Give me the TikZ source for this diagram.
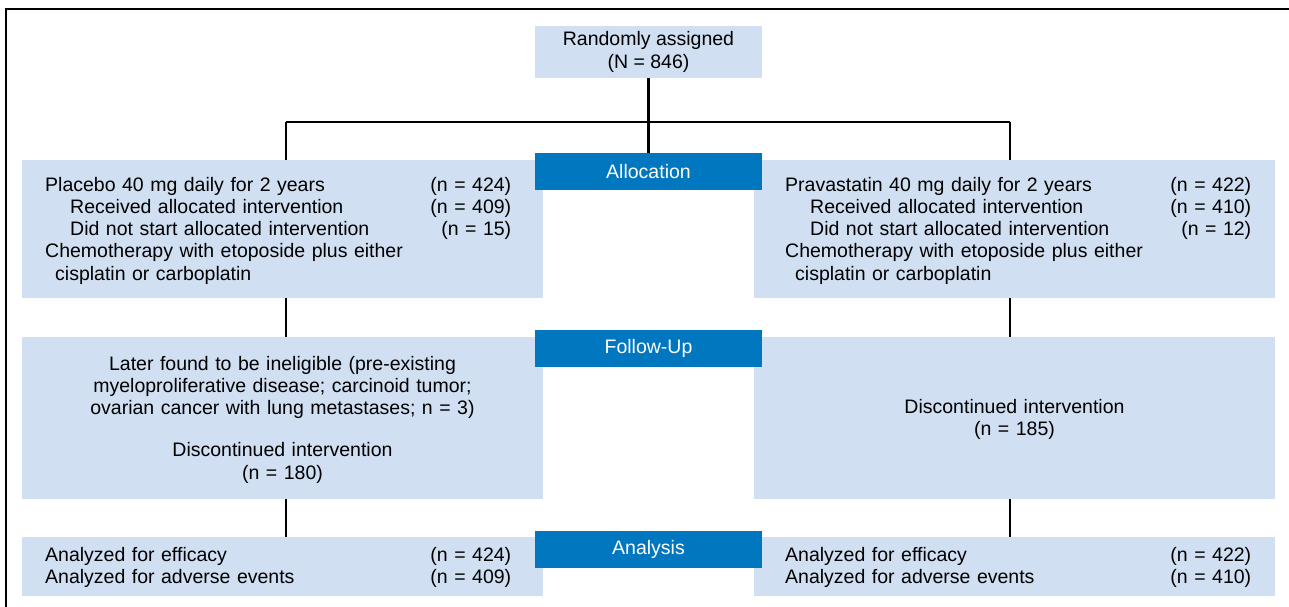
\documentclass[tikz,border=0pt]{standalone}
\usepackage{fontspec}
\setmainfont{Liberation Sans}
\definecolor{armblue}{RGB}{208,223,241}
\definecolor{phaseblue}{RGB}{0,119,191}
\tikzset{
  armbox/.style={fill=armblue, minimum width=521pt, inner sep=0pt, anchor=north west},
  phasebox/.style={fill=phaseblue, text=white, minimum width=227pt, minimum height=37pt, inner sep=0pt},
  armtext/.style={text width=466pt, align=left, inner sep=0pt, anchor=base west},
  midtext/.style={text width=500pt, align=center, inner sep=0pt, anchor=base},
  link/.style={line width=2.3pt}
}
\newcommand{\ncount}[1]{\hspace{\fill}(n = #1)}
\newcommand{\subindent}{\hspace*{25pt}}
\begin{document}
\begin{tikzpicture}[x=1pt,y=-1pt,font=\fontsize{19.5pt}{22.3pt}\selectfont]
    \useasboundingbox (0,0) rectangle (1289,607);
    \draw[line width=1.5pt] (6,607) -- (6,9) -- (1289,9);
    % boxes of the two arms
    \node[armbox, minimum height=138pt] (plac1) at (22,160) {};
    \node[armbox, minimum height=138pt] (prav1) at (754,160) {};
    \node[armbox, minimum height=162pt] (plac2) at (22,337) {};
    \node[armbox, minimum height=162pt] (prav2) at (754,337) {};
    \node[armbox, minimum height=59pt] (plac3) at (22,537) {};
    \node[armbox, minimum height=59pt] (prav3) at (754,537) {};
    % phases
    \node[fill=armblue, minimum width=227pt, minimum height=52pt, align=center, inner sep=0pt] (rand) at (648.5,52) {Randomly assigned\\(N = 846)};
    \node[phasebox] (alloc) at (648.5,171.5) {Allocation};
    \node[phasebox] (follow) at (648.5,348.5) {Follow-Up};
    \node[phasebox] (analysis) at (648.5,549.5) {Analysis};
    % texts
    \node[armtext] (plac1txt) at (45,191) {Placebo 40 mg daily for 2 years\ncount{424}\\
        \subindent Received allocated intervention\ncount{409}\\
        \subindent Did not start allocated intervention\ncount{15}\\
        Chemotherapy with etoposide plus either\\
        \hspace*{10pt}cisplatin or carboplatin};
    \node[armtext] (prav1txt) at (785,191) {Pravastatin 40 mg daily for 2 years\ncount{422}\\
        \subindent Received allocated intervention\ncount{410}\\
        \subindent Did not start allocated intervention\ncount{12}\\
        Chemotherapy with etoposide plus either\\
        \hspace*{10pt}cisplatin or carboplatin};
    \node[midtext] (plac2txt) at (282.5,370) {Later found to be ineligible (pre-existing\\
        myeloproliferative disease; carcinoid tumor;\\
        ovarian cancer with lung metastases; n = 3)\\[20pt]
        Discontinued intervention\\(n = 180)};
    \node[midtext] (prav2txt) at (1014.5,413) {Discontinued intervention\\(n = 185)};
    \node[armtext] (plac3txt) at (45,561) {Analyzed for efficacy\ncount{424}\\
        Analyzed for adverse events\ncount{409}};
    \node[armtext] (prav3txt) at (785,561) {Analyzed for efficacy\ncount{422}\\
        Analyzed for adverse events\ncount{410}};
    % connectors
    \coordinate (lsplit) at (286,122);
    \coordinate (rsplit) at (1010,122);
    \draw[link] (rand.south) -- (alloc.north);
    \draw[link] (lsplit) -- (rsplit);
    \draw[link] (lsplit) -- (lsplit |- plac1.north);
    \draw[link] (rsplit) -- (rsplit |- prav1.north);
    \draw[link] (lsplit |- plac1.south) -- (lsplit |- plac2.north);
    \draw[link] (rsplit |- prav1.south) -- (rsplit |- prav2.north);
    \draw[link] (lsplit |- plac2.south) -- (lsplit |- plac3.north);
    \draw[link] (rsplit |- prav2.south) -- (rsplit |- prav3.north);
\end{tikzpicture}
\end{document}
